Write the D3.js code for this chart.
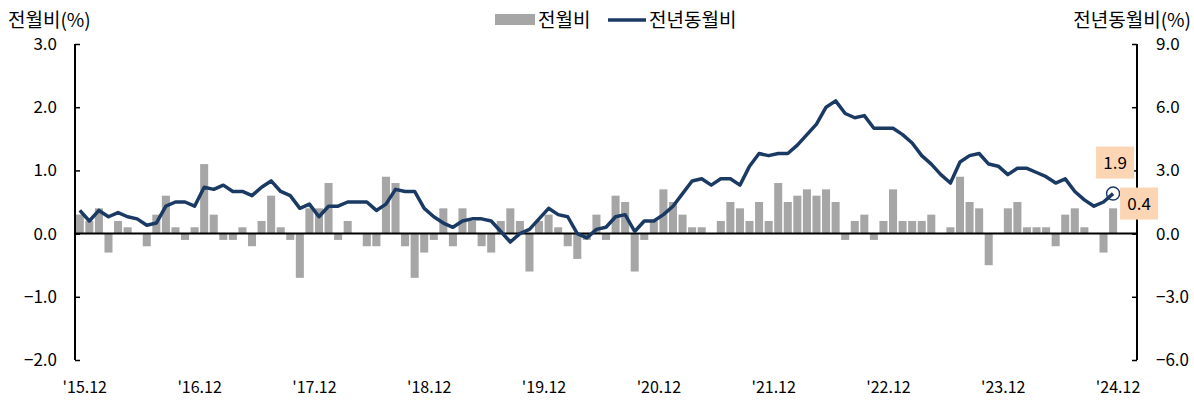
<!DOCTYPE html>
<html>
<head>
<meta charset="utf-8">
<script src="https://cdn.jsdelivr.net/npm/d3@7"></script>
<style>
  body { margin: 0; background: #fff; }
  text { font-family: "Noto Sans CJK KR", "Noto Sans", sans-serif; fill: #000; }
</style>
</head>
<body>
<div id="chart"></div>
<script>
// monthly values, 2015.12 ~ 2024.12
const startMonth = new Date(2015, 11, 1);
const momValues = [
  0.3, 0.2, 0.4, -0.3, 0.2, 0.1, 0.0, -0.2, 0.3, 0.6, 0.1, -0.1,
  0.1, 1.1, 0.3, -0.1, -0.1, 0.1, -0.2, 0.2, 0.6, 0.1, -0.1, -0.7,
  0.4, 0.4, 0.8, -0.1, 0.2, 0.0, -0.2, -0.2, 0.9, 0.8, -0.2, -0.7,
  -0.3, -0.1, 0.4, -0.2, 0.4, 0.2, -0.2, -0.3, 0.2, 0.4, 0.2, -0.6,
  0.2, 0.3, 0.1, -0.2, -0.4, -0.1, 0.3, -0.1, 0.6, 0.5, -0.6, -0.1,
  0.2, 0.7, 0.5, 0.3, 0.1, 0.1, 0.0, 0.2, 0.5, 0.4, 0.2, 0.5,
  0.2, 0.8, 0.5, 0.6, 0.7, 0.6, 0.7, 0.5, -0.1, 0.2, 0.3, -0.1,
  0.2, 0.7, 0.2, 0.2, 0.2, 0.3, 0.0, 0.1, 0.9, 0.5, 0.4, -0.5,
  0.0, 0.4, 0.5, 0.1, 0.1, 0.1, -0.2, 0.3, 0.4, 0.1, 0.0, -0.3,
  0.4
];
const yoyValues = [
  1.1, 0.6, 1.1, 0.8, 1.0, 0.8, 0.7, 0.4, 0.5, 1.3, 1.5, 1.5,
  1.3, 2.2, 2.1, 2.3, 2.0, 2.0, 1.8, 2.2, 2.5, 2.0, 1.8, 1.2,
  1.4, 0.8, 1.3, 1.3, 1.5, 1.5, 1.5, 1.1, 1.4, 2.1, 2.0, 2.0,
  1.2, 0.8, 0.5, 0.3, 0.6, 0.7, 0.7, 0.6, 0.1, -0.4, 0.0, 0.2,
  0.7, 1.2, 0.9, 0.8, 0.0, -0.2, 0.2, 0.3, 0.8, 0.9, 0.1, 0.6,
  0.6, 0.9, 1.3, 1.9, 2.5, 2.6, 2.3, 2.6, 2.6, 2.3, 3.2, 3.8,
  3.7, 3.8, 3.8, 4.2, 4.7, 5.2, 6.0, 6.3, 5.7, 5.5, 5.6, 5.0,
  5.0, 5.0, 4.7, 4.3, 3.7, 3.3, 2.8, 2.4, 3.4, 3.7, 3.8, 3.3,
  3.2, 2.8, 3.1, 3.1, 2.9, 2.7, 2.4, 2.6, 2.0, 1.6, 1.3, 1.5,
  1.9
];
const xTickLabels = ["'15.12", "'16.12", "'17.12", "'18.12", "'19.12", "'20.12", "'21.12", "'22.12", "'23.12", "'24.12"];
const leftTicks = [-2, -1, 0, 1, 2, 3];
const rightTicks = [-6, -3, 0, 3, 6, 9];
const slotCount = 111; // axis runs two empty months past the last point

const width = 1194, height = 400;
const margin = {top: 44, right: 57, bottom: 40, left: 75};

const barColor = "#a6a6a6", lineColor = "#1b3a63";

const fmtMonth = d3.timeFormat("%y.%m");
const slots = d3.range(slotCount).map(i => fmtMonth(d3.timeMonth.offset(startMonth, i)));
const data = momValues.map((v, i) => ({key: slots[i], mom: v, yoy: yoyValues[i]}));

const svg = d3.select("#chart").append("svg")
    .attr("width", width)
    .attr("height", height);

const x = d3.scaleBand()
    .domain(slots)
    .range([margin.left, width - margin.right])
    .paddingInner(0.16)
    .paddingOuter(0.08);

const yL = d3.scaleLinear().domain([-2, 3]).range([height - margin.bottom, margin.top]);
const yR = d3.scaleLinear().domain([-6, 9]).range([height - margin.bottom, margin.top]);

// bars
svg.append("g")
  .selectAll("rect")
  .data(data)
  .join("rect")
    .attr("x", d => x(d.key))
    .attr("width", x.bandwidth())
    .attr("y", d => yL(Math.max(0, d.mom)))
    .attr("height", d => Math.abs(yL(d.mom) - yL(0)))
    .attr("fill", barColor);

// zero line
svg.append("line")
    .attr("x1", margin.left).attr("x2", width - margin.right)
    .attr("y1", yL(0)).attr("y2", yL(0))
    .attr("stroke", "#000").attr("stroke-width", 2);

// axes
const leftAxis = svg.append("g")
    .attr("transform", `translate(${margin.left},0)`)
    .call(d3.axisRight(yL).tickValues(leftTicks).tickFormat(d3.format(".1f")).tickSize(5).tickPadding(0));
leftAxis.select(".domain").attr("stroke-width", 2).attr("d", `M0,${yL(3)}V${yL(-2)}`);
leftAxis.selectAll(".tick line").attr("stroke-width", 1.5);
leftAxis.selectAll(".tick text")
    .attr("x", -18).attr("text-anchor", "end")
    .style("font-size", "17px");

const rightAxis = svg.append("g")
    .attr("transform", `translate(${width - margin.right},0)`)
    .call(d3.axisLeft(yR).tickValues(rightTicks).tickFormat(d3.format(".1f")).tickSize(5).tickPadding(0));
rightAxis.select(".domain").attr("stroke-width", 2).attr("d", `M0,${yR(9)}V${yR(-6)}`);
rightAxis.selectAll(".tick line").attr("stroke-width", 1.5);
rightAxis.selectAll(".tick text")
    .attr("x", 19).attr("text-anchor", "start")
    .style("font-size", "17px");

svg.selectAll(".tick text").attr("font-family", null).attr("fill", "#000");

// x labels every december
svg.append("g")
  .selectAll("text")
  .data(xTickLabels)
  .join("text")
    .attr("x", (d, i) => x(slots[i * 12]) + x.bandwidth() / 2 + 5)
    .attr("y", 393)
    .attr("text-anchor", "middle")
    .style("font-size", "16px")
    .text(d => d);

// yoy line
const line = d3.line()
    .x(d => x(d.key) + x.bandwidth() / 2)
    .y(d => yR(d.yoy));

svg.append("path")
    .datum(data)
    .attr("fill", "none")
    .attr("stroke", lineColor)
    .attr("stroke-width", 3.5)
    .attr("stroke-linejoin", "round")
    .attr("d", line);

// last point marker + labels
const last = data[data.length - 1];
const lx = x(last.key) + x.bandwidth() / 2, ly = yR(last.yoy);

svg.append("circle")
    .attr("cx", lx).attr("cy", ly).attr("r", 6.5)
    .attr("fill", "none")
    .attr("stroke", lineColor).attr("stroke-width", 1.5);

const labelBoxes = [
  {text: d3.format(".1f")(last.yoy), cx: lx + 2, cy: ly - 31},
  {text: d3.format(".1f")(last.mom), cx: lx + 26, cy: ly + 10}
];
const lb = svg.append("g").selectAll("g").data(labelBoxes).join("g");
lb.append("rect")
    .attr("x", d => d.cx - 19).attr("y", d => d.cy - 16)
    .attr("width", 38).attr("height", 32)
    .attr("fill", "#fcd5b4");
lb.append("text")
    .attr("x", d => d.cx).attr("y", d => d.cy + 6)
    .attr("text-anchor", "middle")
    .style("font-size", "17px")
    .text(d => d.text);

// axis titles
svg.append("text").attr("x", 8).attr("y", 27).style("font-size", "19px").text("전월비(%)");
svg.append("text").attr("x", 1191).attr("y", 27).attr("text-anchor", "end").style("font-size", "19px").text("전년동월비(%)");

// legend
const legend = svg.append("g");
legend.append("rect").attr("x", 495).attr("y", 14).attr("width", 40).attr("height", 11).attr("fill", barColor);
legend.append("text").attr("x", 538).attr("y", 27).style("font-size", "19px").text("전월비");
legend.append("line").attr("x1", 608).attr("x2", 646).attr("y1", 20).attr("y2", 20)
    .attr("stroke", lineColor).attr("stroke-width", 3.5);
legend.append("text").attr("x", 649).attr("y", 27).style("font-size", "19px").text("전년동월비");
</script>
</body>
</html>
